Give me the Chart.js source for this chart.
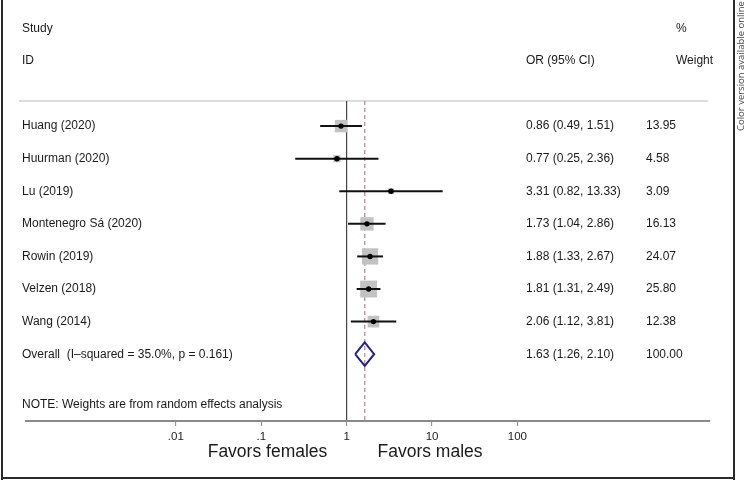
<!DOCTYPE html>
<html>
<head>
<meta charset="utf-8">
<script src="https://cdn.jsdelivr.net/npm/chart.js@4.4.1/dist/chart.umd.min.js"></script>
<style>
  html, body { margin: 0; padding: 0; background: #fff; }
</style>
</head>
<body>
<canvas id="forest" width="746" height="480"></canvas>
<script>
// study rows
const studies = ["Huang (2020)", "Huurman (2020)", "Lu (2019)", "Montenegro Sá (2020)",
  "Rowin (2019)", "Velzen (2018)", "Wang (2014)"];
const orValues = [0.86, 0.77, 3.31, 1.73, 1.88, 1.81, 2.06];
const ciLow = [0.49, 0.25, 0.82, 1.04, 1.33, 1.31, 1.12];
const ciHigh = [1.51, 2.36, 13.33, 2.86, 2.67, 2.49, 3.81];
const weights = [13.95, 4.58, 3.09, 16.13, 24.07, 25.80, 12.38];

// pooled estimate
const overallLabel = "Overall  (I\u2013squared = 35.0%, p = 0.161)";
const overallOr = 1.63;
const overallLow = 1.26;
const overallHigh = 2.10;
const overallWeight = 100.00;

const tickValues = [0.01, 0.1, 1, 10, 100];
const tickLabels = [".01", ".1", "1", "10", "100"];
const noteText = "NOTE: Weights are from random effects analysis";

const FONT = '"Liberation Sans", Arial, Helvetica, sans-serif';
const overallRow = studies.length;
const yMin = -0.77, yMax = 9.05;

const ciSets = studies.map((s, i) => ({
  showLine: true,
  data: [{ x: ciLow[i], y: i }, { x: ciHigh[i], y: i }],
  borderColor: "#111",
  borderWidth: 2,
  pointRadius: 0,
  order: 2,
}));

const fmt = (v) => v.toFixed(2);

const textPlugin = {
  id: "forestText",
  beforeDraw(chart) {
    const c = chart.ctx;
    const area = chart.chartArea;
    c.save();
    // frame
    c.fillStyle = "#2a2a2a";
    c.fillRect(1, 0, 2, 480);
    c.fillRect(733, 0, 2, 480);
    c.fillRect(1, 477, 734, 2);
    // header separator
    c.strokeStyle = "#dddddd";
    c.lineWidth = 2;
    c.beginPath();
    c.moveTo(19, area.top);
    c.lineTo(area.right - 2, area.top);
    c.stroke();
    c.restore();
  },
  afterDraw(chart) {
    const c = chart.ctx;
    const y = chart.scales.y;
    c.save();
    c.fillStyle = "#1a1a1a";
    c.textBaseline = "middle";
    c.font = "12px " + FONT;
    c.fillText("Study", 22, y.getPixelForValue(-3));
    c.fillText("ID", 22, y.getPixelForValue(-2));
    c.fillText("OR (95% CI)", 526, y.getPixelForValue(-2));
    c.fillText("%", 676, y.getPixelForValue(-3));
    c.fillText("Weight", 676, y.getPixelForValue(-2));
    studies.forEach((s, i) => {
      const py = y.getPixelForValue(i);
      c.fillText(s, 22, py);
      c.fillText(`${fmt(orValues[i])} (${fmt(ciLow[i])}, ${fmt(ciHigh[i])})`, 526, py);
      c.fillText(fmt(weights[i]), 646, py);
    });
    const oy = y.getPixelForValue(overallRow);
    c.fillText(overallLabel, 22, oy);
    c.fillText(`${fmt(overallOr)} (${fmt(overallLow)}, ${fmt(overallHigh)})`, 526, oy);
    c.fillText(fmt(overallWeight), 646, oy);
    c.fillText(noteText, 22, y.getPixelForValue(8.56));

    c.font = "17.5px " + FONT;
    c.textAlign = "center";
    c.fillText("Favors females", 267.5, 452);
    c.fillText("Favors males", 430, 452);

    // side note
    c.translate(741, 131);
    c.rotate(-Math.PI / 2);
    c.textAlign = "left";
    c.fillStyle = "#444";
    c.font = '9.5px "Open Sans", "Noto Sans", sans-serif';
    c.fillText("Color version available online", 0, 0);
    c.restore();
  },
};

new Chart(document.getElementById("forest"), {
  type: "scatter",
  data: {
    datasets: [
      {
        // study point estimates
        data: studies.map((s, i) => ({ x: orValues[i], y: i })),
        pointRadius: 2.7,
        pointBackgroundColor: "#000",
        pointBorderWidth: 0,
        order: 1,
      },
      {
        // weight boxes
        data: studies.map((s, i) => ({ x: orValues[i], y: i })),
        pointStyle: "rect",
        pointRadius: weights.map((w) => 2.35 * Math.sqrt(w)),
        pointBackgroundColor: "#c2c2c2",
        pointBorderWidth: 0,
        order: 3,
      },
      ...ciSets,
      {
        // pooled diamond
        showLine: true,
        data: [
          { x: overallLow, y: overallRow },
          { x: overallOr, y: overallRow - 0.36 },
          { x: overallHigh, y: overallRow },
          { x: overallOr, y: overallRow + 0.36 },
          { x: overallLow, y: overallRow },
        ],
        borderColor: "#24247e",
        borderWidth: 2,
        pointRadius: 0,
        order: 1,
      },
      {
        // pooled estimate line
        showLine: true,
        data: [{ x: overallOr, y: yMin }, { x: overallOr, y: yMax }],
        borderColor: "#c08a94",
        borderWidth: 1.3,
        borderDash: [4, 3],
        pointRadius: 0,
        order: 4,
      },
    ],
  },
  options: {
    responsive: false,
    animation: false,
    devicePixelRatio: 1,
    layout: { padding: { left: 26, right: 36, top: 101, bottom: 19 } },
    plugins: { legend: { display: false }, tooltip: { enabled: false } },
    scales: {
      x: {
        type: "logarithmic",
        min: 1.76e-4,
        max: 17990,
        afterBuildTicks: (s) => { s.ticks = tickValues.map((v) => ({ value: v })); },
        afterFit: (s) => { s.height = 40; },
        ticks: {
          autoSkip: false,
          maxRotation: 0,
          padding: 4,
          color: "#222",
          font: { family: FONT, size: 11.5 },
          callback: (v, i) => tickLabels[i],
        },
        grid: {
          color: (ctx) => (ctx.tick && ctx.tick.value === 1 ? "#444" : "rgba(0,0,0,0)"),
          lineWidth: 1.2,
          tickLength: 5,
          tickColor: "#888",
          tickWidth: 1,
        },
        border: { display: true, color: "#8a8a8a", width: 2 },
      },
      y: {
        type: "linear",
        min: yMin,
        max: yMax,
        reverse: true,
        display: false,
      },
    },
  },
  plugins: [textPlugin],
});
</script>
</body>
</html>
